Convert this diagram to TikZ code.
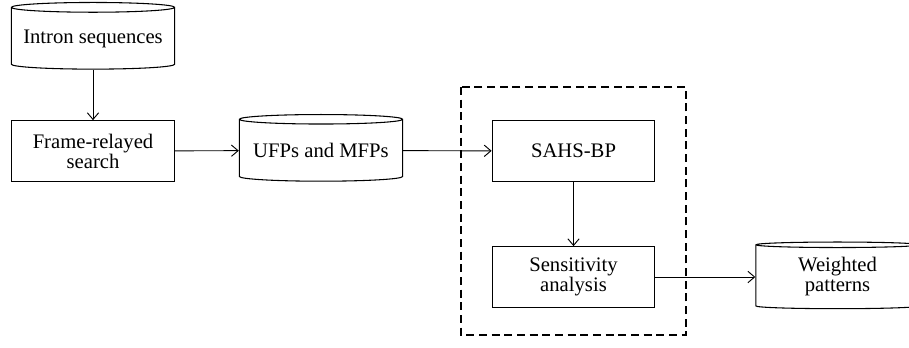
\documentclass[tikz,border=0pt]{standalone}
\usepackage{fontspec}
\setmainfont{Liberation Serif}
\usetikzlibrary{shapes.geometric,arrows.meta}
\tikzset{%
  >={Straight Barb[length=5pt,width=8.5pt]}, % open arrow heads
  every node/.style={font=\fontsize{15.5}{15}\selectfont,align=center},
  process/.style={draw,line width=0.8pt,inner sep=0pt,
    minimum width=122pt,minimum height=45.5pt},
  datastore/.style={draw,line width=0.8pt,cylinder,shape border rotate=90,
    aspect=0.07,inner sep=0pt,minimum width=122.5pt,minimum height=50pt},
  flow/.style={->,line width=0.7pt},
  group box/.style={draw,line width=0.8pt,dash pattern=on 6pt off 3.5pt}
}
\begin{document}
\begin{tikzpicture}[x=0.75pt,y=-0.75pt] % pixel grid, y down

\useasboundingbox (0,0) rectangle (909,347);

% stage 1: sources
\node[datastore] (intron) at (93,38.5) {Intron sequences};
\node[process] (frame) at (93,151) {Frame-relayed\\search};
\node[datastore] (ufp) at (321,150.5) {UFPs and MFPs};

% stage 2: model
\draw[group box] (461,87) rectangle (686,335);
\node[process] (sahs) at (573.5,151) {SAHS-BP};
\node[process] (sens) at (573.5,277) {Sensitivity\\analysis};

% output
\node[datastore] (weight) at (837.5,277) {Weighted\\patterns};

\draw[flow] (intron) -- (frame);
\draw[flow] (frame) -- (ufp);
\draw[flow] (ufp) -- (sahs);
\draw[flow] (sahs) -- (sens);
\draw[flow] (sens) -- (weight);

\end{tikzpicture}
\end{document}
